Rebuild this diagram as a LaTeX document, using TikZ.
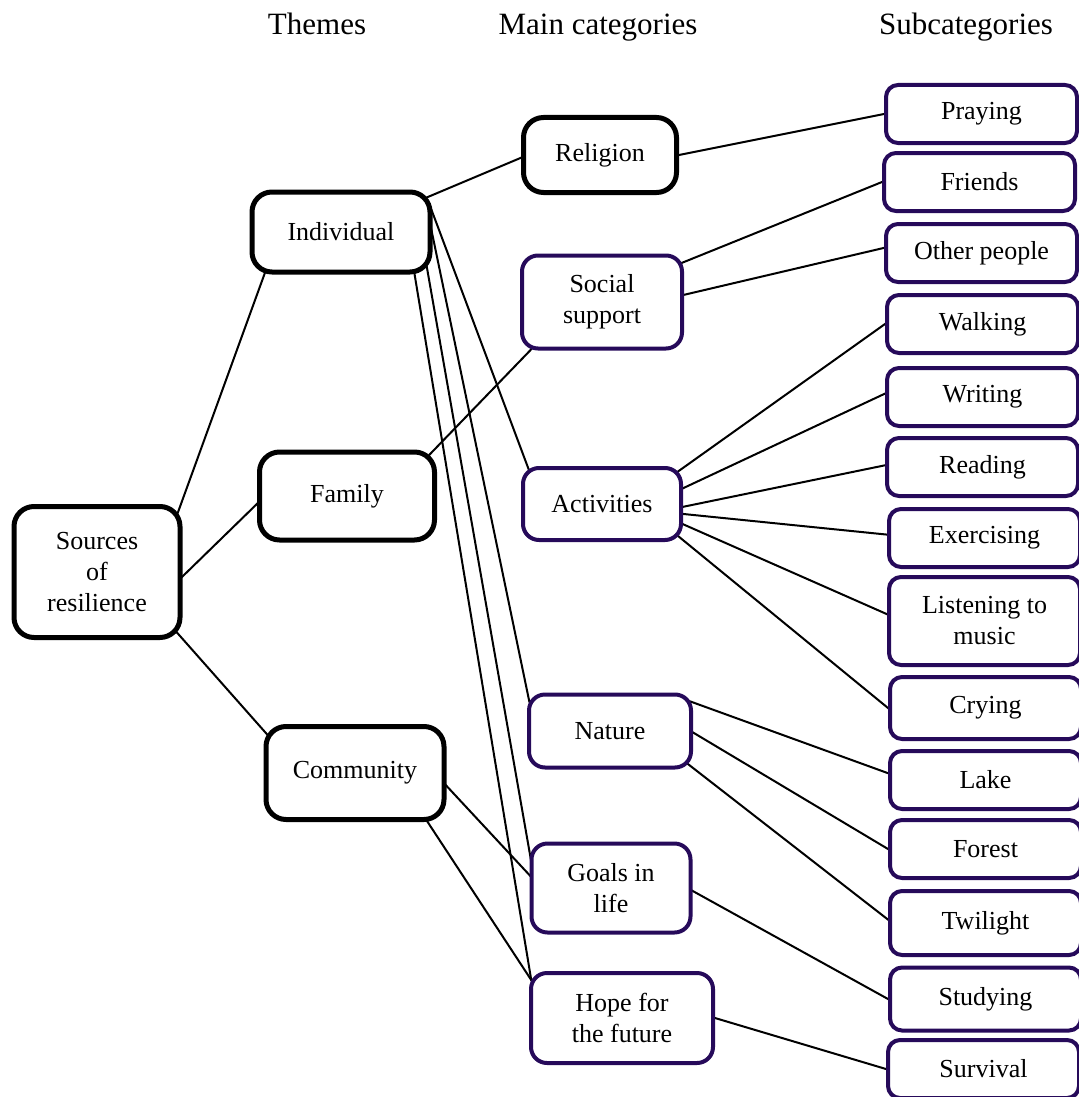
\documentclass[tikz,border=0pt]{standalone}
\usepackage{fontspec}
\setmainfont{Liberation Serif}
\usetikzlibrary{positioning,backgrounds}
\definecolor{boxpurple}{RGB}{38,10,90}

\begin{document}
\begin{tikzpicture}[
    x=0.5pt, y=-0.5pt,
every node/.style = {inner sep=2pt, align=center,
                     font=\fontsize{13}{15.5}\selectfont},
     blackbox/.style = {draw, fill=white, line width=2.5pt, rounded corners=10pt},
    violetbox/.style = {draw=boxpurple, fill=white, line width=2pt, rounded corners=8pt},
       subbox/.style = {draw=boxpurple, fill=white, line width=2pt, rounded corners=6pt,
                        anchor=west, minimum width=95.5pt, minimum height=29pt},
       header/.style = {anchor=base, font=\fontsize{15.5}{18}\selectfont},
         link/.style = {line width=1pt, shorten <=-5pt, shorten >=-5pt}]
\useasboundingbox (0,0) rectangle (1079,1097);
\node[header] (hthemes) at (317,35) {Themes};
\node[header] (hmain)   at (598,35) {Main categories};
\node[header] (hsub)    at (966,35) {Subcategories};
\node[blackbox, minimum width=83pt, minimum height=65.5pt]
      (src)  at (97,572)  {Sources\\of\\resilience};
\node[blackbox, minimum width=89pt, minimum height=40pt]
      (ind)  at (341,232) {Individual};
\node[blackbox, minimum width=87.5pt, minimum height=44pt]
      (fam)  at (347,496) {Family};
\node[blackbox, minimum width=89pt, minimum height=46.5pt]
      (com)  at (355,773) {Community};
\node[blackbox, minimum width=76.5pt, minimum height=37.5pt]
      (rel)  at (600,155) {Religion};
\node[violetbox, minimum width=80pt, minimum height=46.5pt]
      (soc)  at (602,302) {Social\\support};
\node[violetbox, minimum width=79pt, minimum height=36pt]
      (act)  at (602,504) {Activities};
\node[violetbox, minimum width=81pt, minimum height=36.5pt]
      (nat)  at (610,731) {Nature};
\node[violetbox, minimum width=79.5pt, minimum height=44.5pt]
      (goal) at (611,888) {Goals in\\life};
\node[violetbox, minimum width=91pt, minimum height=45pt]
      (hope) at (622,1018) {Hope for\\the future};
\node[subbox] (pray)   at (884,114)  {Praying};
\node[subbox] (friend) at (882,182)  {Friends};
\node[subbox] (other)  at (884,253)  {Other people};
\node[subbox] (walk)   at (885,324)  {Walking};
\node[subbox] (writ)   at (885,397)  {Writing};
\node[subbox] (read)   at (885,467)  {Reading};
\node[subbox] (exer)   at (887,538)  {Exercising};
\node[subbox, minimum height=44pt]
              (listen) at (887,621)  {Listening to\\music};
\node[subbox, minimum height=31pt]
              (cry)    at (888,708)  {Crying};
\node[subbox] (lake)   at (888,780)  {Lake};
\node[subbox] (forest) at (888,849)  {Forest};
\node[subbox, minimum height=32pt]
              (twi)    at (888,923)  {Twilight};
\node[subbox, minimum height=31.5pt]
              (study)  at (888,999)  {Studying};
\node[subbox] (surv)   at (886,1069) {Survival};
\begin{pgfonlayer}{background}
    \draw[link] (src.39)  -- (ind.209);
    \draw[link] (src.-3)  -- (fam.185);
    \draw[link] (src.-38) -- (com.155);
    \draw[link] (ind.22)  -- (rel.182);
    \draw[link] (ind.12)  -- (act.153);
    \draw[link] (ind.-2)  -- (nat.155);
    \draw[link] (ind.-26) -- (goal.156);
    \draw[link] (ind.-30) -- (hope.153);
    \draw[link] (fam.28)  -- (soc.214);
    \draw[link] (com.-8)  -- (goal.171);
    \draw[link] (com.-34) -- (hope.156);
    \draw[link] (rel.east) -- (pray.west);
    \draw[link] (soc.26)  -- (friend.west);
    \draw[link] (soc.5)   -- (other.177);
    \draw[link] (act.24)  -- (walk.west);
    \draw[link] (act.11)  -- (writ.178);
    \draw[link] (act.-2)  -- (read.179);
    \draw[link] (act.-7)  -- (exer.178);
    \draw[link] (act.-14) -- (listen.176);
    \draw[link] (act.-24) -- (cry.west);
    \draw[link] (nat.19)  -- (lake.176);
    \draw[link] (nat.-1)  -- (forest.west);
    \draw[link] (nat.-24) -- (twi.178);
    \draw[link] (goal.-2) -- (study.west);
    \draw[link] (hope.east) -- (surv.west);
\end{pgfonlayer}
\end{tikzpicture}
\end{document}
